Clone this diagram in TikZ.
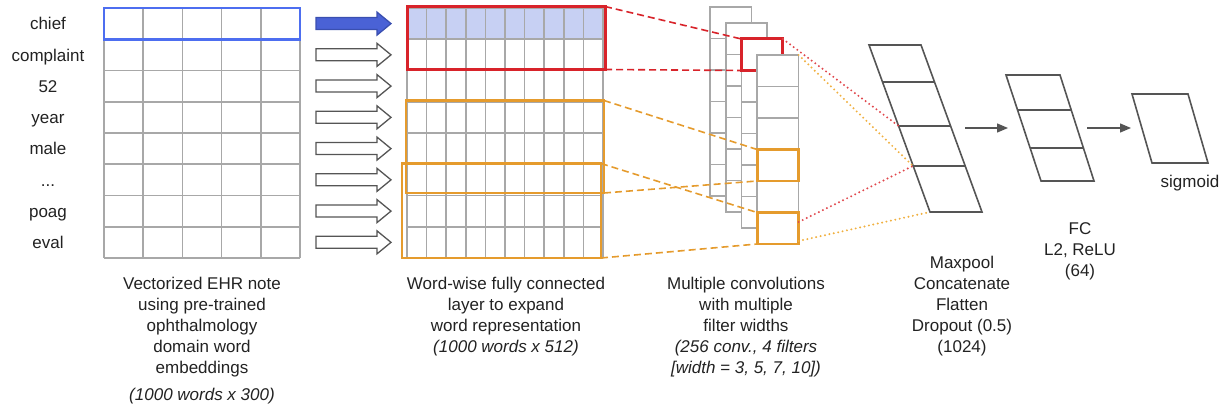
\documentclass[tikz,border=0pt]{standalone}
\usepackage{fontspec}
\setmainfont{Liberation Sans}
\usetikzlibrary{arrows.meta}
\definecolor{gridgray}{HTML}{A8A8A8}
\definecolor{boxblue}{HTML}{4D6EF0}
\definecolor{arrowblue}{HTML}{4A62D6}
\definecolor{arrowblueline}{HTML}{3A4FB0}
\definecolor{shadeblue}{HTML}{C7D0F3}
\definecolor{boxred}{HTML}{D8232A}
\definecolor{boxorange}{HTML}{E59B2D}
\definecolor{dotred}{HTML}{E0474C}
\definecolor{dotorange}{HTML}{F0B040}
\definecolor{shapegray}{HTML}{555555}
\definecolor{txt}{HTML}{222222}
\begin{document}
\begin{tikzpicture}[x=1pt,y=-1pt,font=\fontsize{17}{21}\selectfont,
  gl/.style={draw=gridgray,line width=1.6pt},
  hollowarrow/.style={draw=shapegray,line width=1.3pt,fill=white,line join=miter},
  bluearrow/.style={draw=arrowblueline,line width=1.3pt,fill=arrowblue},
  redbox/.style={draw=boxred,line width=3pt},
  orangebox/.style={draw=boxorange,line width=2.8pt},
  reddash/.style={draw=boxred,line width=1.6pt,dash pattern=on 7pt off 4pt},
  orangedash/.style={draw=boxorange,line width=1.6pt,dash pattern=on 7pt off 4pt},
  reddot/.style={draw=dotred,line width=2.2pt,line cap=round,dash pattern=on 0pt off 4.5pt},
  orangedot/.style={draw=dotorange,line width=2.2pt,line cap=round,dash pattern=on 0pt off 4.5pt},
  para/.style={draw=shapegray,line width=1.6pt,line join=miter},
  flow/.style={draw=shapegray,line width=1.4pt,-{Triangle[length=11pt,width=9pt]}},
  word/.style={text=txt,inner sep=0pt,anchor=base},
  captxt/.style={text=txt,inner sep=0pt,align=center}]
\useasboundingbox (0,0) rectangle (1232,411);

% ---- word labels
\node[word] (w1) at (48,29.9) {chief};
\node[word] (w2) at (48,61.2) {complaint};
\node[word] (w3) at (48,92.4) {52};
\node[word] (w4) at (48,123.7) {year};
\node[word] (w5) at (48,154.9) {male};
\node[word] (w6) at (48,186.2) {...};
\node[word] (w7) at (48,217.4) {poag};
\node[word] (w8) at (48,248.7) {eval};

% ---- left embedding grid
\foreach \i in {0,...,8} \draw[gl] (104,8+31.25*\i) -- (300,8+31.25*\i);
\foreach \j in {0,...,5} \draw[gl] (104+39.2*\j,8) -- (104+39.2*\j,258);
\draw[draw=boxblue,line width=2.6pt] (104,8) rectangle (300,39.25);

% ---- block arrows
\foreach \i in {0,...,7}{
  \pgfmathsetmacro{\yc}{23.6+31.25*\i}
  \ifnum\i=0
    \path[bluearrow] (316,\yc-6) -- (377,\yc-6) -- (377,\yc-11.5) -- (391,\yc) -- (377,\yc+11.5) -- (377,\yc+6) -- (316,\yc+6) -- cycle;
  \else
    \path[hollowarrow] (316,\yc-6) -- (377,\yc-6) -- (377,\yc-11.5) -- (391,\yc) -- (377,\yc+11.5) -- (377,\yc+6) -- (316,\yc+6) -- cycle;
  \fi
}

% ---- middle grid
\fill[shadeblue] (407,8) rectangle (603,39.25);
\foreach \i in {0,...,8} \draw[gl] (407,8+31.25*\i) -- (603,8+31.25*\i);
\foreach \j in {0,...,10} \draw[gl] (407+19.6*\j,8) -- (407+19.6*\j,258);
\draw[redbox] (407,6.5) rectangle (605,69.5);
\draw[orangebox] (406,100.5) rectangle (604,193);
\draw[orangebox] (402,163.5) rectangle (601,258);
\coordinate (rTR) at (605,6.5);
\coordinate (rBR) at (605,69.5);
\coordinate (o1TR) at (604,100.5);
\coordinate (o1BR) at (604,193);
\coordinate (o2TR) at (601,163.5);
\coordinate (o2BR) at (601,258);

% ---- convolution stacks
\foreach \k in {0,1,2}{
  \pgfmathsetmacro{\xa}{710+15.7*\k}
  \pgfmathsetmacro{\ya}{7+16*\k}
  \filldraw[gl,fill=white] (\xa,\ya) rectangle (\xa+41.5,\ya+189);
  \foreach \m in {1,...,5} \draw[gl] (\xa,\ya+31.5*\m) -- (\xa+41.5,\ya+31.5*\m);
}
\draw[redbox] (741.4,39) rectangle (782.9,70.5);
\coordinate (rcTL) at (741.4,39);
\coordinate (rcBL) at (741.4,70.5);
\coordinate (rcTR) at (782.9,39);
\filldraw[gl,fill=white] (757.1,55) rectangle (798.6,244);
\foreach \m in {1,...,5} \draw[gl] (757.1,55+31.5*\m) -- (798.6,55+31.5*\m);
\draw[orangebox] (757.1,149.5) rectangle (798.6,181);
\draw[orangebox] (757.1,212.5) rectangle (798.6,244);
\coordinate (s4TR) at (798.6,55);
\coordinate (c4TL) at (757.1,149.5);
\coordinate (c4BL) at (757.1,181);
\coordinate (c6TL) at (757.1,212.5);
\coordinate (c6BL) at (757.1,244);
\coordinate (c6R) at (798.6,222);
\coordinate (c6BR) at (798.6,241);

% ---- dashed projections
\draw[reddash] (rTR) -- (rcTL);
\draw[reddash] (rBR) -- (rcBL);
\draw[orangedash] (o1TR) -- (c4TL);
\draw[orangedash] (o1BR) -- (c4BL);
\draw[orangedash] (o2TR) -- (c6TL);
\draw[orangedash] (o2BR) -- (c6BL);

% ---- maxpool parallelogram
\coordinate (mTL) at (869,45);
\coordinate (mTR) at (921,45);
\coordinate (mBR) at (982,212);
\coordinate (mBL) at (930,212);
\coordinate (mL1) at (882.5,82);   \coordinate (mR1) at (934.5,82);
\coordinate (mL2) at (898.6,126);  \coordinate (mR2) at (950.6,126);
\coordinate (mL3) at (913,166);    \coordinate (mR3) at (965,166);
\draw[para] (mTL) -- (mTR) -- (mBR) -- (mBL) -- cycle;
\draw[para] (mL1) -- (mR1);
\draw[para] (mL2) -- (mR2);
\draw[para] (mL3) -- (mR3);

% ---- dotted projections
\draw[reddot] (rcTR) -- (mL2);
\draw[orangedot] (s4TR) -- (mL3);
\draw[reddot] (c6R) -- (mL3);
\draw[orangedot] (c6BR) -- (mBL);

% ---- FC parallelogram
\coordinate (fTL) at (1006,75);
\coordinate (fTR) at (1060,75);
\coordinate (fBR) at (1094,181);
\coordinate (fBL) at (1041,181);
\draw[para] (fTL) -- (fTR) -- (fBR) -- (fBL) -- cycle;
\draw[para] (1017.6,110) -- (1071.6,110);
\draw[para] (1030,148) -- (1084,148);

% ---- sigmoid parallelogram
\coordinate (sTL) at (1132,94);
\coordinate (sTR) at (1188,94);
\coordinate (sBR) at (1208,163);
\coordinate (sBL) at (1152,163);
\draw[para] (sTL) -- (sTR) -- (sBR) -- (sBL) -- cycle;

% ---- flow arrows
\coordinate (a1s) at (965,128);
\coordinate (a1e) at (1008,128);
\coordinate (a2s) at (1087,128);
\coordinate (a2e) at (1131,128);
\draw[flow] (a1s) -- (a1e);
\draw[flow] (a2s) -- (a2e);

% ---- captions
\node[captxt] (c1) at (202,327) {Vectorized EHR note\\using pre-trained\\ophthalmology\\domain word\\embeddings};
\node[captxt] (c1b) at (202,396) {\itshape (1000 words x 300)};
\node[captxt] (c2) at (506,316.5) {Word-wise fully connected\\layer to expand\\word representation\\\itshape (1000 words x 512)};
\node[captxt] (c3) at (746,327) {Multiple convolutions\\with multiple\\filter widths\\\itshape (256 conv., 4 filters\\\itshape [width = 3, 5, 7, 10])};
\node[captxt] (c4) at (962,306) {Maxpool\\Concatenate\\Flatten\\Dropout (0.5)\\(1024)};
\node[captxt] (c5) at (1080,251) {FC\\L2, ReLU\\(64)};
\node[captxt] (c6) at (1190,183) {sigmoid};
\end{tikzpicture}
\end{document}
